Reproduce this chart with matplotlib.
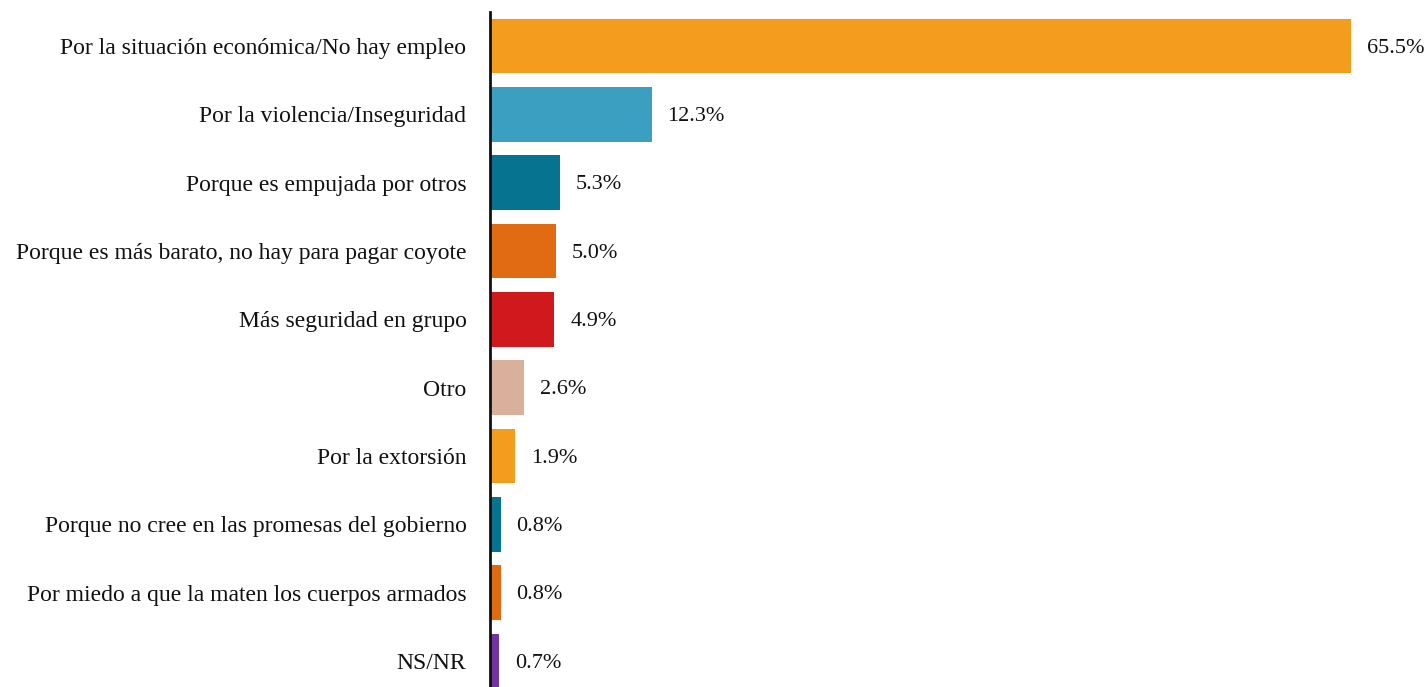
import matplotlib
matplotlib.use("Agg")
import matplotlib.pyplot as plt

categories = [
    "Por la situación económica/No hay empleo",
    "Por la violencia/Inseguridad",
    "Porque es empujada por otros",
    "Porque es más barato, no hay para pagar coyote",
    "Más seguridad en grupo",
    "Otro",
    "Por la extorsión",
    "Porque no cree en las promesas del gobierno",
    "Por miedo a que la maten los cuerpos armados",
    "NS/NR",
]
values = [65.5, 12.3, 5.3, 5.0, 4.9, 2.6, 1.9, 0.8, 0.8, 0.7]
colors = ["#F39C1E", "#3A9FC1", "#067390", "#E06B12", "#D0191C",
          "#D9B09B", "#F39C1E", "#067390", "#E06B12", "#7234A0"]

plt.rcParams["font.family"] = ["Liberation Serif", "DejaVu Serif"]

fig = plt.figure(figsize=(14.26, 6.87), dpi=100)
ax = fig.add_axes([490 / 1426, 0, 1 - 490 / 1426, (687 - 12) / 687])

y = list(range(len(categories)))
ax.barh(y, values, height=0.8, color=colors)
ax.set_ylim(9.38, -0.5)
ax.set_xlim(0, 71.2)

for yi, v in zip(y, values):
    ax.text(v + 1.2, yi + 0.03, f"{v:.1f}%", va="center", ha="left",
            fontsize=16, color="#111111")

ax.set_yticks(y)
ax.set_yticklabels(categories, fontsize=17, color="#111111")
ax.tick_params(axis="y", length=0, pad=17)
ax.set_xticks([])
for side in ["top", "right", "bottom"]:
    ax.spines[side].set_visible(False)
ax.spines["left"].set_linewidth(2)
ax.spines["left"].set_color("#111111")

fig.savefig("out.png", dpi=100)
